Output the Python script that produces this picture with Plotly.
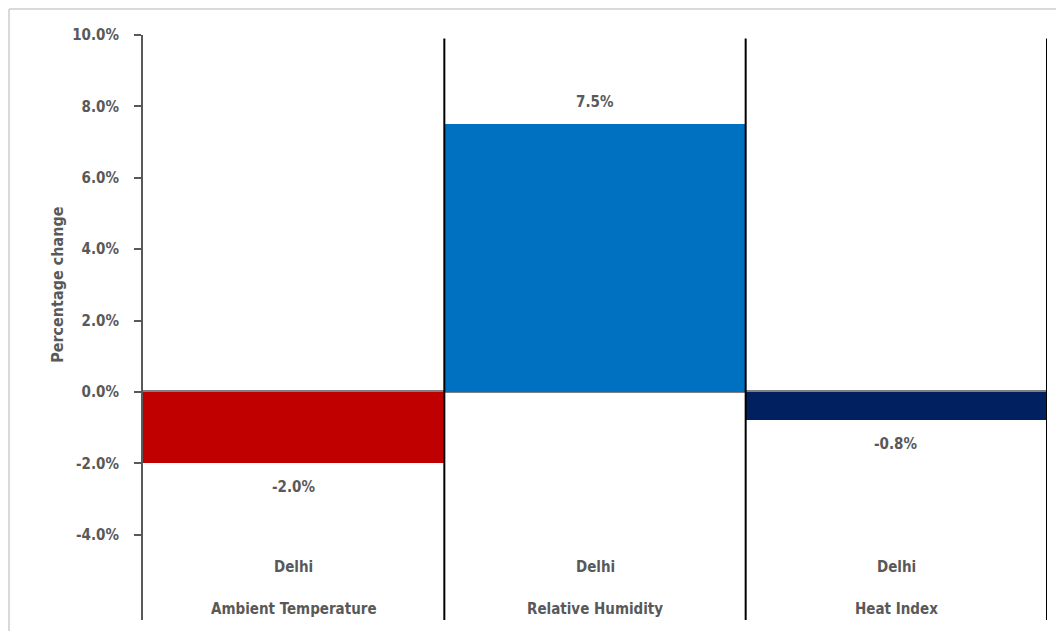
import plotly.graph_objects as go

categories = ["Ambient Temperature", "Relative Humidity", "Heat Index"]
cities = ["Delhi", "Delhi", "Delhi"]
values = [-2.0, 7.5, -0.8]
colors = ["#C00000", "#0070C0", "#002060"]
tick_vals = [-4, -2, 0, 2, 4, 6, 8, 10]
tick_text = ["-4.0%", "-2.0%", "0.0%", "2.0%", "4.0%", "6.0%", "8.0%", "10.0%"]

FONT = "Liberation Sans Narrow, DejaVu Sans Condensed, Roboto, sans-serif"
GREY = "#595959"
YMIN, YMAX = -6.39, 10.0

fig = go.Figure()
fig.add_trace(go.Bar(
    x=categories, y=values, marker=dict(color=colors, line=dict(width=0)),
    showlegend=False, hoverinfo="skip",
))

annotations = []
for c, v in zip(categories, values):
    annotations.append(dict(
        x=c, y=v, xref="x", yref="y", text=f"<b>{v:.1f}%</b>", showarrow=False,
        yshift=22 if v >= 0 else -24, font=dict(family=FONT, size=15, color=GREY)))
for c, city in zip(categories, cities):
    annotations.append(dict(
        x=c, y=-4.9, xref="x", yref="y", text=f"<b>{city}</b>", showarrow=False,
        font=dict(family=FONT, size=15, color=GREY)))
    annotations.append(dict(
        x=c, y=-6.08, xref="x", yref="y", text=f"<b>{c}</b>", showarrow=False,
        font=dict(family=FONT, size=15, color=GREY)))
annotations.append(dict(
    x=-0.094, xref="paper", xanchor="center", y=3, yref="y", yanchor="middle",
    text="<b>Percentage change</b>",
    textangle=-90, showarrow=False, font=dict(family=FONT, size=16, color=GREY)))

shapes = []
for xb in [0.5, 1.5, 2.5]:
    shapes.append(dict(type="line", xref="x", yref="y", x0=xb, x1=xb, y0=YMIN, y1=9.9,
                       line=dict(color="black", width=2)))
# light outer frame (top and left edges)
shapes.append(dict(type="line", xref="paper", yref="paper",
                   x0=-0.1482, x1=1.0188, y0=1.0444, y1=1.0444,
                   line=dict(color="#D9D9D9", width=2), layer="below"))
shapes.append(dict(type="line", xref="paper", yref="paper",
                   x0=-0.1482, x1=-0.1482, y0=-0.0188, y1=1.0444,
                   line=dict(color="#D9D9D9", width=2), layer="below"))

fig.update_layout(
    width=1056, height=623,
    margin=dict(l=135, r=17, t=27, b=11),
    paper_bgcolor="white", plot_bgcolor="white",
    bargap=0,
    xaxis=dict(range=[-0.5, 2.5], showticklabels=False, showgrid=False, zeroline=False,
               showline=False, fixedrange=True),
    yaxis=dict(range=[YMIN, YMAX], tickvals=tick_vals, ticktext=[f"<b>{t}</b>" for t in tick_text],
               ticks="outside", ticklen=7, tickwidth=2, tickcolor=GREY,
               showline=True, linecolor=GREY, linewidth=2,
               showgrid=False, zeroline=True, zerolinecolor="#7F7F7F", zerolinewidth=3,
               tickfont=dict(family=FONT, size=15, color=GREY), ticklabelstandoff=12),
    annotations=annotations, shapes=shapes,
)
fig.write_html("out.html")
